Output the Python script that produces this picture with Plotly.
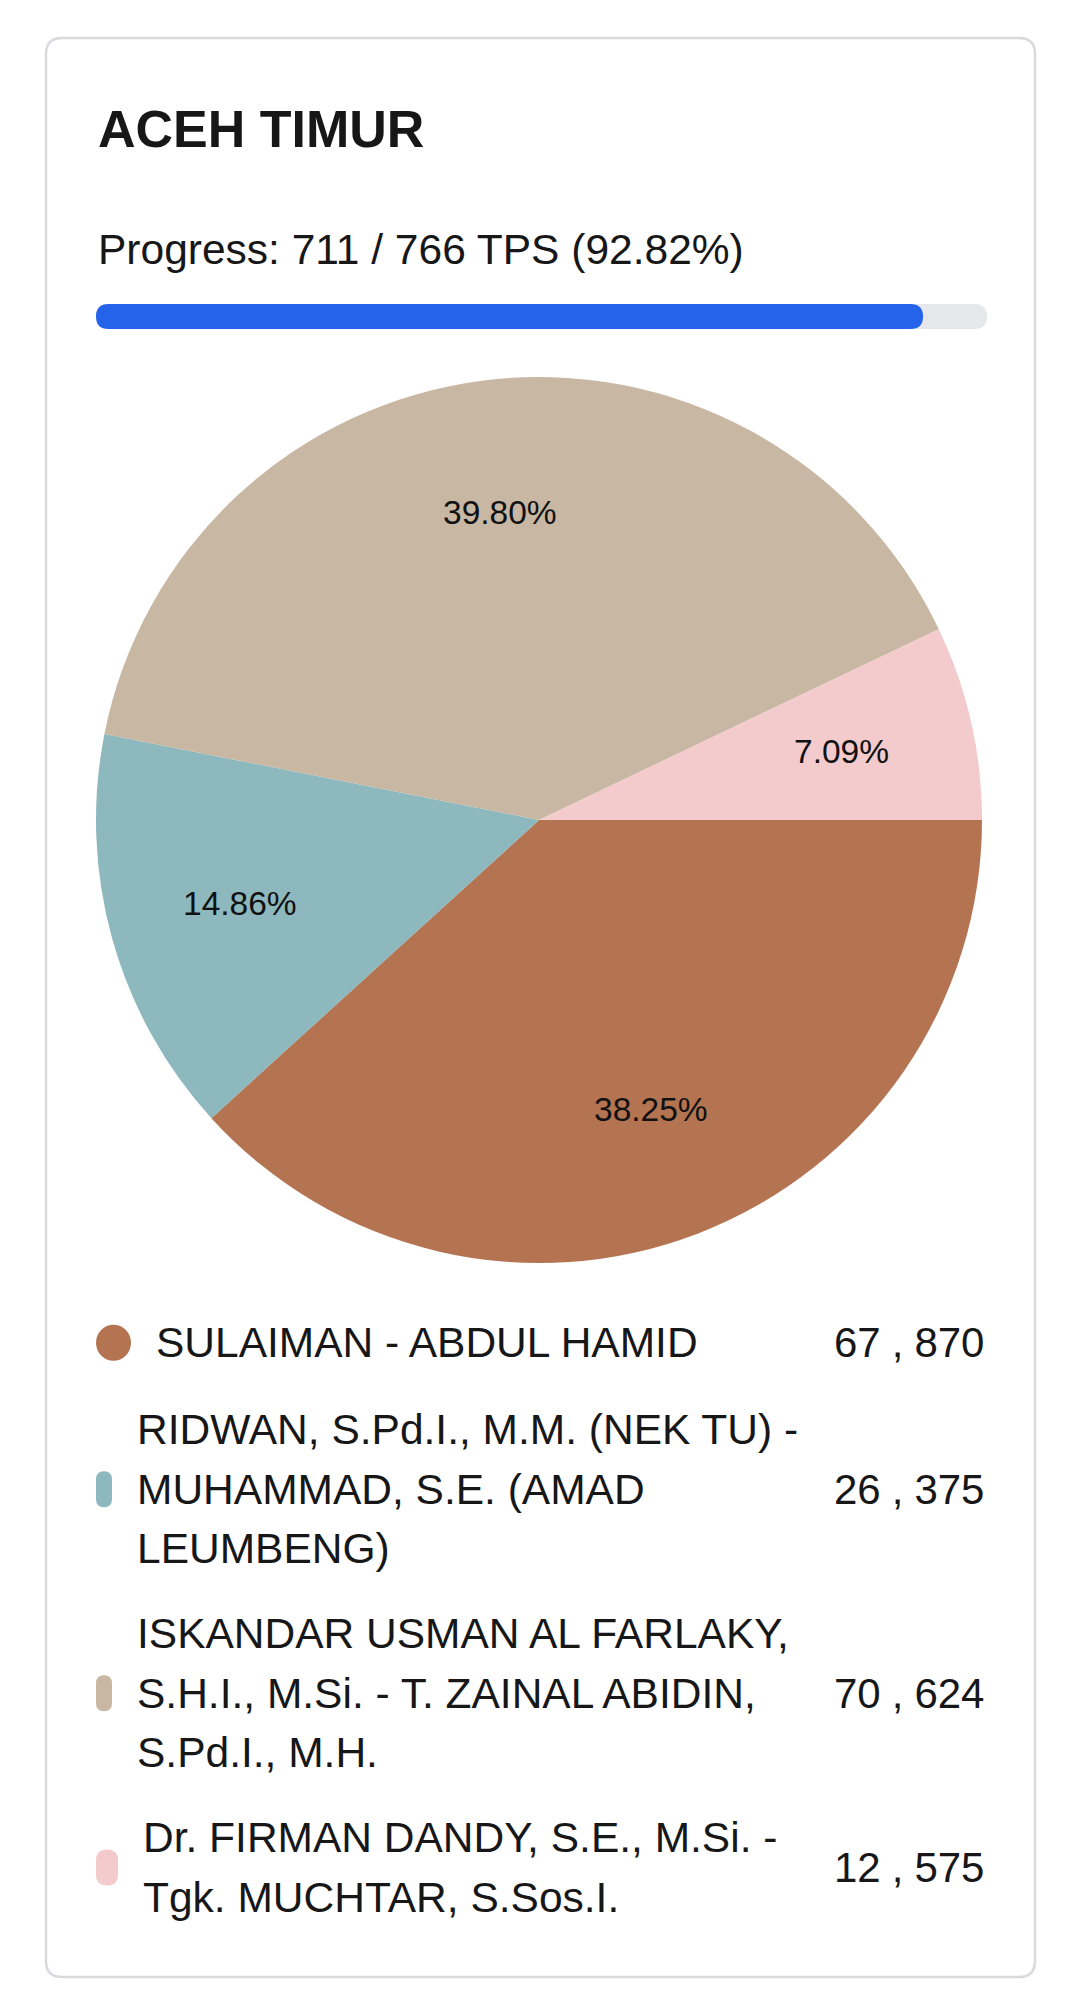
import math
import plotly.graph_objects as go

# ---------------- data ----------------
region_title = "ACEH TIMUR"
tps_done = 711
tps_total = 766
candidates = [
    "SULAIMAN - ABDUL HAMID",
    "RIDWAN, S.Pd.I., M.M. (NEK TU) - MUHAMMAD, S.E. (AMAD LEUMBENG)",
    "ISKANDAR USMAN AL FARLAKY, S.H.I., M.Si. - T. ZAINAL ABIDIN, S.Pd.I., M.H.",
    "Dr. FIRMAN DANDY, S.E., M.Si. - Tgk. MUCHTAR, S.Sos.I.",
]
candidate_lines = [
    ["SULAIMAN - ABDUL HAMID"],
    ["RIDWAN, S.Pd.I., M.M. (NEK TU) -", "MUHAMMAD, S.E. (AMAD", "LEUMBENG)"],
    ["ISKANDAR USMAN AL FARLAKY,", "S.H.I., M.Si. - T. ZAINAL ABIDIN,", "S.Pd.I., M.H."],
    ["Dr. FIRMAN DANDY, S.E., M.Si. -", "Tgk. MUCHTAR, S.Sos.I."],
]
votes = [67870, 26375, 70624, 12575]
colors = ["#b47452", "#8db8bd", "#c8b7a3", "#f3cbcc"]

# ---------------- layout helpers ----------------
W, H = 1080, 2005
FONT = "Liberation Sans, Arial, sans-serif"
TEXT = "#171717"


def fx(x):
    return x / W


def fy(y):
    return 1 - y / H


def rrect(x0, y0, x1, y1, r):
    pts = []
    pts.append(f"M {fx(x0 + r)},{fy(y0)}")
    pts.append(f"L {fx(x1 - r)},{fy(y0)}")
    pts.append(f"Q {fx(x1)},{fy(y0)} {fx(x1)},{fy(y0 + r)}")
    pts.append(f"L {fx(x1)},{fy(y1 - r)}")
    pts.append(f"Q {fx(x1)},{fy(y1)} {fx(x1 - r)},{fy(y1)}")
    pts.append(f"L {fx(x0 + r)},{fy(y1)}")
    pts.append(f"Q {fx(x0)},{fy(y1)} {fx(x0)},{fy(y1 - r)}")
    pts.append(f"L {fx(x0)},{fy(y0 + r)}")
    pts.append(f"Q {fx(x0)},{fy(y0)} {fx(x0 + r)},{fy(y0)}")
    pts.append("Z")
    return " ".join(pts)


shapes = []
annotations = []

# card
shapes.append(dict(type="path", xref="paper", yref="paper",
                   path=rrect(46, 38, 1035, 1977, 16),
                   fillcolor="white", line=dict(color="#d9d9de", width=2.5), layer="below"))

# title
annotations.append(dict(xref="paper", yref="paper", x=fx(96), y=fy(129),
                        xanchor="left", yanchor="middle", showarrow=False,
                        text=f"<b>{region_title}</b>",
                        font=dict(family=FONT, size=52, color=TEXT)))
# progress text
pct = tps_done / tps_total * 100
annotations.append(dict(xref="paper", yref="paper", x=fx(96), y=fy(249),
                        xanchor="left", yanchor="middle", showarrow=False,
                        text=f"Progress: {tps_done} / {tps_total} TPS ({pct:.2f}%)",
                        font=dict(family=FONT, size=42.5, color=TEXT)))
# progress bar
bx0, bx1, by0, by1 = 96, 987, 304, 329
shapes.append(dict(type="path", xref="paper", yref="paper",
                   path=rrect(bx0, by0, bx1, by1, 12.5),
                   fillcolor="#e5e7eb", line=dict(width=0)))
bfill = bx0 + (bx1 - bx0) * tps_done / tps_total
shapes.append(dict(type="path", xref="paper", yref="paper",
                   path=rrect(bx0, by0, bfill, by1, 12.5),
                   fillcolor="#2563eb", line=dict(width=0)))

# pie
cx, cy, r = 539, 820, 443
pie = go.Pie(
    labels=candidates, values=votes, sort=False, direction="clockwise", rotation=90,
    marker=dict(colors=colors, line=dict(width=0)),
    textinfo="none",
    domain=dict(x=[fx(cx - r), fx(cx + r)], y=[fy(cy + r), fy(cy - r)]),
    showlegend=False, hoverinfo="label+value+percent",
)

# percent labels placed at 70% of the radius along each slice's mid-angle
total = sum(votes)
cum = 0.0
for v in votes:
    frac = v / total
    mid_deg = (cum + frac / 2) * 360.0  # clockwise from 3 o'clock
    cum += frac
    a = math.radians(mid_deg)
    lx = cx + 0.70 * r * math.cos(a)
    ly = cy + 0.70 * r * math.sin(a)
    annotations.append(dict(xref="paper", yref="paper", x=fx(lx), y=fy(ly),
                            xanchor="center", yanchor="middle", showarrow=False,
                            text=f"{frac * 100:.2f}%",
                            font=dict(family=FONT, size=33.5, color="#111111")))

# custom legend
item_tops = [1313, 1400, 1604, 1808]
marker_w = [35, 16, 16, 22]
line_h = 59.5
for i, lines in enumerate(candidate_lines):
    top = item_tops[i]
    n = len(lines)
    mid = top + n * line_h / 2
    mw = marker_w[i]
    mx0 = 96
    if i == 0:
        shapes.append(dict(type="circle", xref="paper", yref="paper",
                           x0=fx(mx0), x1=fx(mx0 + mw), y0=fy(mid - 18), y1=fy(mid + 18),
                           fillcolor=colors[i], line=dict(width=0)))
    else:
        shapes.append(dict(type="path", xref="paper", yref="paper",
                           path=rrect(mx0, mid - 18, mx0 + mw, mid + 18, mw / 2),
                           fillcolor=colors[i], line=dict(width=0)))
    tx = mx0 + mw + 23
    for k, ln in enumerate(lines):
        ly = top + line_h * (k + 0.5)
        annotations.append(dict(xref="paper", yref="paper", x=fx(tx), y=fy(ly),
                                xanchor="left", yanchor="middle", showarrow=False,
                                text=ln, font=dict(family=FONT, size=42.5, color=TEXT)))
    vs = f"{votes[i]:,}"
    head, tail = vs.split(",")
    vtext = (f"{head[:-1]}<span style='letter-spacing:11px'>{head[-1]},</span>{tail}")
    annotations.append(dict(xref="paper", yref="paper", x=fx(986), y=fy(mid),
                            xanchor="right", yanchor="middle", showarrow=False,
                            text=vtext, font=dict(family=FONT, size=42, color=TEXT)))

fig = go.Figure(pie)
fig.update_layout(
    width=W, height=H, margin=dict(l=0, r=0, t=0, b=0),
    paper_bgcolor="white", plot_bgcolor="white",
    shapes=shapes, annotations=annotations,
)
fig.write_html("out.html")
